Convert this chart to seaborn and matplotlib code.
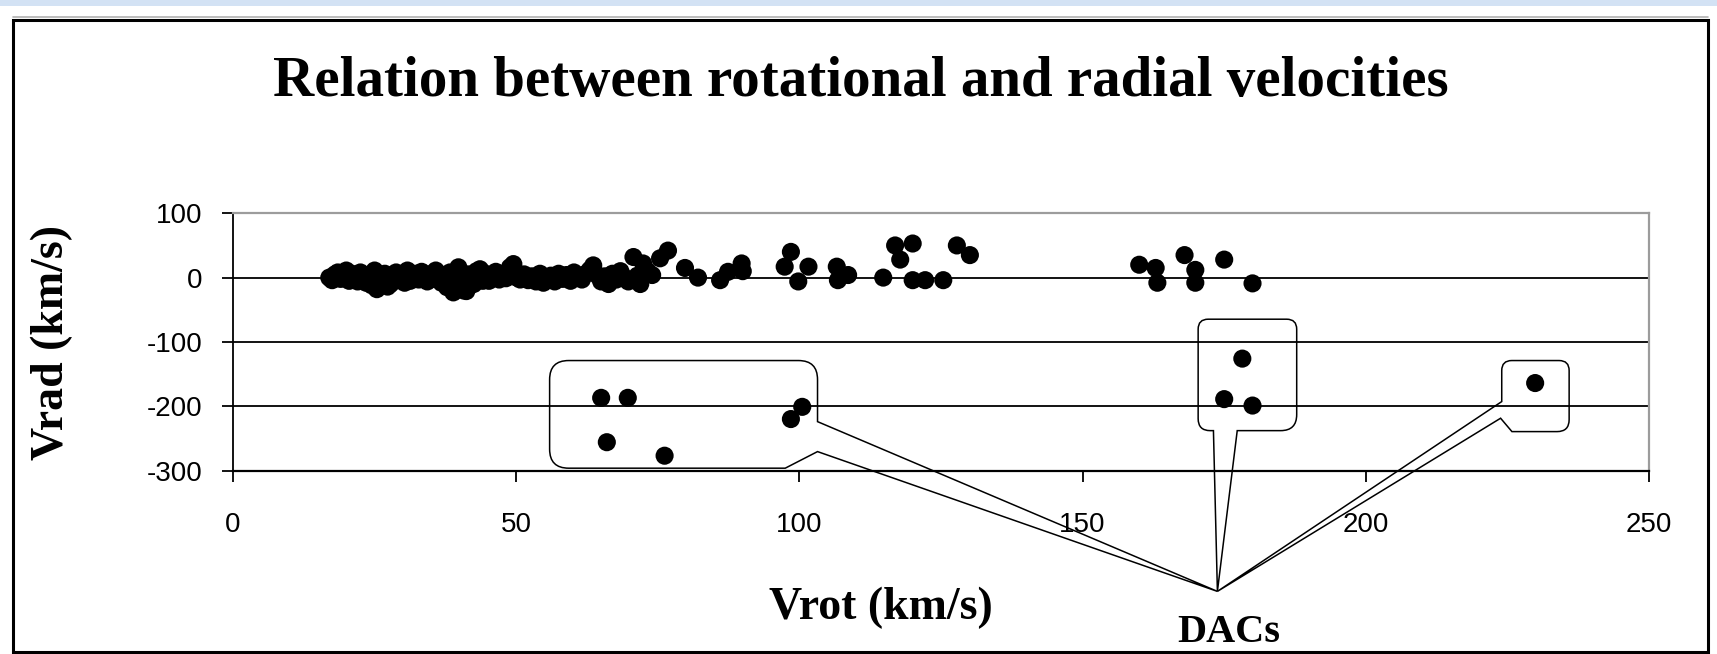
import numpy as np
import pandas as pd
import matplotlib
matplotlib.use("Agg")
import matplotlib.pyplot as plt
import seaborn as sns
from matplotlib.path import Path
from matplotlib.patches import PathPatch, Rectangle
from matplotlib.transforms import IdentityTransform

# ---------------- data ----------------
vrot = [17.0, 17.5, 18.0, 18.5, 19.0, 19.5, 20.0, 20.5, 21.0, 21.5, 22.0, 22.5, 23.0, 23.5,
        24.0, 24.5, 25.0, 25.4, 25.8, 26.2, 26.8, 27.3, 27.8, 28.3, 28.8, 29.3, 29.8, 30.3,
        30.8, 31.3, 31.8, 32.3, 32.8, 33.3, 33.8, 34.3, 34.8, 35.3, 35.8, 36.3, 36.8, 37.3,
        37.8, 38.3, 38.9, 39.3, 39.8, 40.3, 40.7, 41.2, 41.6, 42.1, 42.5, 43.0, 43.6, 44.1,
        44.6, 45.2, 45.8, 46.4, 47.0, 47.6, 48.2, 48.9, 49.5, 50.1, 50.7, 51.4, 52.1, 52.8,
        53.5, 54.2, 54.8, 55.5, 56.1, 56.8, 57.5, 58.2, 58.9, 59.6, 60.2, 60.9, 61.6, 62.3,
        63.0, 63.6, 64.3, 65.0, 65.7, 66.3, 67.0, 67.7, 68.4, 69.1, 69.8, 70.7, 71.4, 71.9,
        72.4, 73.2, 74.0, 75.4, 76.8,
        79.8, 82.1, 86.0, 87.4, 89.8, 90.0, 97.4, 98.5, 99.8, 101.6, 106.6, 106.8, 108.6,
        114.8, 116.9, 117.8, 120.0, 120.0, 122.2, 125.4, 127.8, 130.1,
        160.0, 162.9, 163.2, 168.0, 169.9, 169.9, 175.0, 180.0]
vrad = [0, -4, 5, 8, -2, 3, 11, -5, 6, 0, -6, 8, 2, -8,
        4, -12, 11, -18, 0, -6, 6, -14, -10, 2, 8, -4, 4, -8,
        11, -5, 0, 6, -3, 9, 2, -6, 5, -2, 11, 0, -8, 4,
        -15, 8, -23, 2, 16, -12, -20, -21, 5, -3, -10, 10, 13, -5,
        6, -5, 2, 9, -3, 5, -1, 16, 21, 0, -3, 5, -4, 2,
        -6, 6, -8, 0, 3, -6, 6, -2, 4, -5, 8, 1, -3, 6,
        12, 19, 4, -6, 2, -10, 6, -3, 10, 0, -6, 32, 3, -10,
        22, 10, 4, 30, 42,
        15, 0, -4, 9, 22, 10, 17, 40, -6, 17, 17, -4, 4,
        0, 50, 28, 53, -4, -4, -4, 50, 35,
        20, 15, -8, 35, 12, -8, 28, -9]

dac_vrot = [65.0, 69.7, 66.0, 76.2, 98.5, 100.5, 178.2, 175.0, 180.0, 229.9]
dac_vrad = [-187, -187, -256, -277, -220, -201, -126, -189, -199, -164]

x_ticks = [0, 50, 100, 150, 200, 250]
y_ticks = [100, 0, -100, -200, -300]

title_text = "Relation between rotational and radial velocities"
xlabel_text = "Vrot (km/s)"
ylabel_text = "Vrad (km/s)"
callout_text = "DACs"

# ---------------- figure ----------------
sns.set_theme(style="white")
plt.rcParams['font.family'] = ['Liberation Serif', 'DejaVu Serif']
plt.rcParams['text.color'] = 'black'
plt.rcParams['axes.labelcolor'] = 'black'
plt.rcParams['xtick.color'] = 'black'
plt.rcParams['ytick.color'] = 'black'

W, H = 1717, 654
fig = plt.figure(figsize=(W / 100, H / 100), dpi=100)
fig.patch.set_facecolor("white")

ax_left, ax_right, ax_top, ax_bottom = 233, 1649, 213.3, 470.5
ax = fig.add_axes([ax_left / W, 1 - ax_bottom / H, (ax_right - ax_left) / W, (ax_bottom - ax_top) / H])
ax.set_facecolor("white")

df = pd.DataFrame({"Vrot": vrot + dac_vrot, "Vrad": vrad + dac_vrad})
sns.scatterplot(data=df, x="Vrot", y="Vrad", color="black", s=170, marker="o",
                edgecolor="none", linewidth=0, ax=ax, zorder=4, legend=False)

ax.set_xlim(0, 250)
ax.set_ylim(-300, 100)
ax.set_xticks(x_ticks)
ax.set_yticks(y_ticks)
ax.set_xticklabels([str(t) for t in x_ticks], family=['Liberation Sans', 'DejaVu Sans'],
                   fontsize=20, color="black")
ax.set_yticklabels([str(t) for t in y_ticks], family=['Liberation Sans', 'DejaVu Sans'],
                   fontsize=20, color="black")
ax.set_xlabel("")
ax.set_ylabel("")

for yv in y_ticks[1:-1]:
    ax.axhline(yv, color="black", lw=1.3, zorder=1)

ax.spines["top"].set_color("#9c9c9c")
ax.spines["right"].set_color("#9c9c9c")
ax.spines["top"].set_linewidth(1.6)
ax.spines["right"].set_linewidth(1.6)
ax.spines["left"].set_color("black")
ax.spines["left"].set_linewidth(1.3)
ax.spines["bottom"].set_color("black")
ax.spines["bottom"].set_linewidth(1.6)

ax.tick_params(axis="y", direction="out", length=8, width=1.3, color="black", pad=14,
               left=True, labelcolor="black")
ax.tick_params(axis="x", direction="out", length=8, width=1.3, color="black", pad=22,
               bottom=True, labelcolor="black")

# ---------------- callouts ----------------
def rounded_path(pts, radii):
    verts, codes = [], []
    n = len(pts)
    for i in range(n):
        p = np.array(pts[i], dtype=float)
        r = radii[i]
        if r <= 0:
            verts.append(p)
            codes.append(Path.LINETO)
        else:
            prv = np.array(pts[i - 1], dtype=float)
            nxt = np.array(pts[(i + 1) % n], dtype=float)
            d1 = (prv - p) / np.linalg.norm(prv - p)
            d2 = (nxt - p) / np.linalg.norm(nxt - p)
            verts += [p + d1 * r, p, p + d2 * r]
            codes += [Path.LINETO, Path.CURVE3, Path.CURVE3]
    codes[0] = Path.MOVETO
    verts.append(verts[0])
    codes.append(Path.CLOSEPOLY)
    return Path(verts, codes)

tip = (173.8, -488)
callouts = [
    ([(55.9, -129), (103.2, -129), (103.2, -224), tip, (103.2, -270.6), (97.5, -296.4), (55.9, -296.4)],
     [19, 19, 0, 0, 0, 0, 19]),
    ([(170.4, -64.7), (187.8, -64.7), (187.8, -238), (177.3, -238), tip, (173.1, -238), (170.4, -238)],
     [10, 10, 16, 0, 0, 0, 12]),
    ([(224.0, -129), (235.9, -129), (235.9, -239.5), (225.8, -239.5), (223.8, -218.7), tip, (224.0, -192.8)],
     [10, 10, 12, 0, 0, 0, 0]),
]
for pts, radii in callouts:
    disp = ax.transData.transform(np.array(pts))
    patch = PathPatch(rounded_path(disp, radii), transform=IdentityTransform(),
                      fill=False, ec="black", lw=1.1, clip_on=False, zorder=5)
    fig.add_artist(patch)

# ---------------- texts ----------------
fig.text(861 / W, 1 - 82 / H, title_text, ha="center", va="center", fontsize=41,
         weight="bold", color="black")
fig.text(881 / W, 1 - 608 / H, xlabel_text, ha="center", va="center", fontsize=33,
         weight="bold", color="black")
fig.text(52 / W, 1 - 343 / H, ylabel_text, ha="center", va="center", fontsize=33,
         weight="bold", rotation=90, color="black")
fig.text(1229 / W, 1 - 633 / H, callout_text, ha="center", va="center", fontsize=29,
         weight="bold", color="black")

# ---------------- outer frame ----------------
fig.add_artist(Rectangle((0, 1 - 6 / H), 1, 6 / H, transform=fig.transFigure,
                         facecolor="#d3e2f4", edgecolor="none", zorder=0))
fig.add_artist(Rectangle((13 / W, 1 - 652 / H), (1708 - 13) / W, (652 - 20) / H,
                         transform=fig.transFigure, fill=False, ec="black", lw=2.2, zorder=6))
fig.add_artist(plt.Line2D([13 / W, 1708 / W], [1 - 17 / H, 1 - 17 / H], transform=fig.transFigure,
                          color="#b0b0b0", lw=1.2, zorder=6))

fig.savefig("out.png", dpi=100)
